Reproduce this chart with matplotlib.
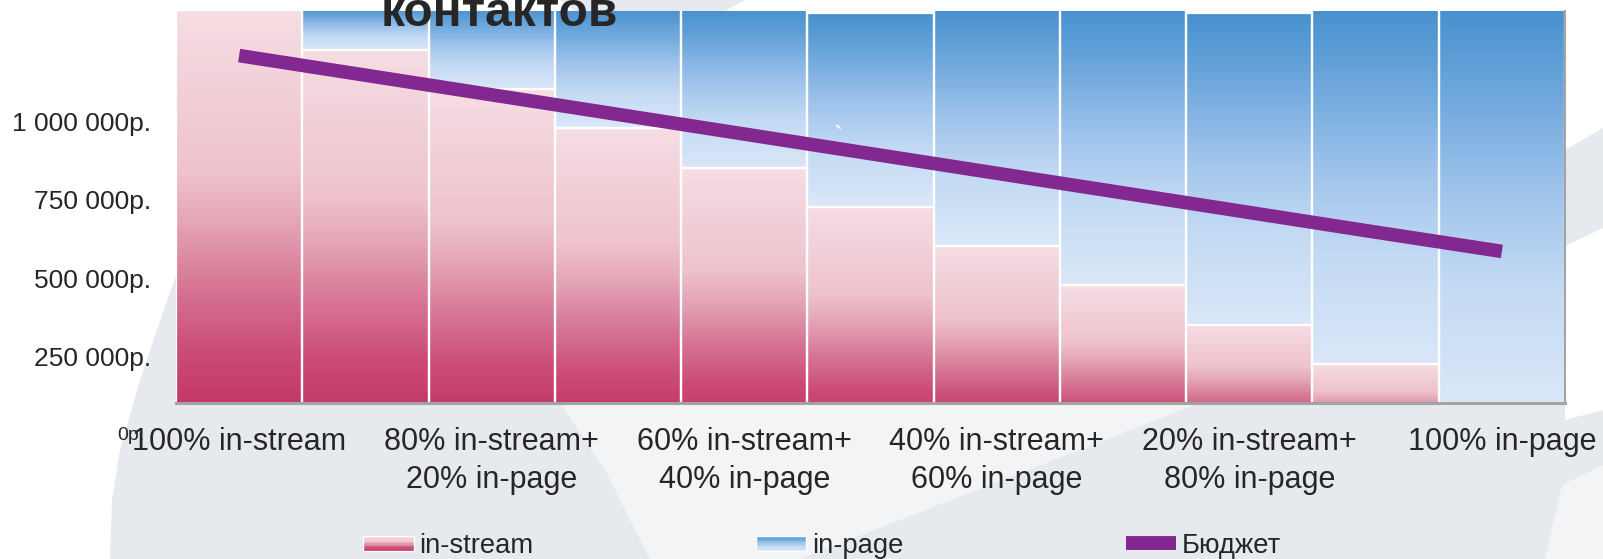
import numpy as np
import matplotlib
matplotlib.use("Agg")
import matplotlib.pyplot as plt
from matplotlib.colors import LinearSegmentedColormap
from matplotlib.patches import Polygon, Rectangle
from matplotlib.legend_handler import HandlerBase
from matplotlib.lines import Line2D

# ---------------- data ----------------
categories = [
    "100% in-stream",
    "90% in-stream+\n10% in-page",
    "80% in-stream+\n20% in-page",
    "70% in-stream+\n30% in-page",
    "60% in-stream+\n40% in-page",
    "50% in-stream+\n50% in-page",
    "40% in-stream+\n60% in-page",
    "30% in-stream+\n70% in-page",
    "20% in-stream+\n80% in-page",
    "10% in-stream+\n90% in-page",
    "100% in-page",
]
in_stream = [1355000, 1227000, 1102000, 977000, 852000, 727000, 602000, 477000, 352000, 227000, 102000]
in_page = [0, 133000, 258000, 383000, 508000, 618000, 758000, 883000, 993000, 1133000, 1258000]
budget = [1209000, 1146500, 1084000, 1021500, 959000, 896500, 834000, 771500, 709000, 646500, 585000]
y_ticks = [250000, 500000, 750000, 1000000]
series_names = ["in-stream", "in-page", "Бюджет"]
title_text = "контактов"

# ---------------- style ----------------
W, H = 1603, 559
DPI = 100
FONT = ["Liberation Sans", "DejaVu Sans"]
plt.rcParams["font.family"] = FONT
TXT = "#262626"

pink_cmap = LinearSegmentedColormap.from_list(
    "pink", [(0.0, "#be2d5c"), (0.2, "#cb4d76"), (0.36, "#d87a97"),
             (0.5, "#e5a5b7"), (0.62, "#eec3ce"), (1.0, "#f6dde3")])
blue_cmap = LinearSegmentedColormap.from_list(
    "blue", [(0.0, "#dae7f8"), (0.3, "#c3daf4"), (0.55, "#9dc2eb"),
             (0.8, "#6aa5db"), (1.0, "#4790ce")])

fig = plt.figure(figsize=(W / DPI, H / DPI), dpi=DPI)
fig.patch.set_facecolor("white")


def px(x, y):
    return (x / W, 1 - y / H)


# background watermark shapes
gray = "#e6e9ed"
bg_shapes = [
    [(185, 250), (162, 315), (140, 380), (120, 450), (112, 500), (110, 559),
     (1603, 559), (1603, 410), (1565, 420), (1565, 250)],
    [(1565, 150), (1603, 128), (1603, 228), (1565, 246)],
    [(560, 0), (745, 0), (725, 11), (575, 11)],
]
for pts in bg_shapes:
    fig.patches.append(Polygon([px(*p) for p in pts], closed=True, transform=fig.transFigure,
                               facecolor=gray, edgecolor="none", zorder=-10))
light_shapes = [
    [(560, 403), (1200, 403), (800, 559), (650, 559), (605, 470)],
    [(1545, 559), (1562, 485), (1603, 465), (1603, 559)],
]
for pts in light_shapes:
    fig.patches.append(Polygon([px(*p) for p in pts], closed=True, transform=fig.transFigure,
                               facecolor="#f3f4f6", edgecolor="none", zorder=-9))

ax = fig.add_axes([176 / W, 1 - 403 / H, (1565 - 176) / W, (403 - 10.7) / H])
ax.set_facecolor("none")

x = np.arange(len(categories))
bars_s = ax.bar(x, in_stream, width=1.0, facecolor="none", edgecolor="white", linewidth=1.6, zorder=3)
bars_p = ax.bar(x, in_page, width=1.0, bottom=in_stream, facecolor="none", edgecolor="white",
                linewidth=1.6, zorder=3)


def grad_fill(patch, cmap):
    x0, y0 = patch.get_x(), patch.get_y()
    w, h = patch.get_width(), patch.get_height()
    if h <= 0:
        return
    g = np.linspace(0, 1, 256)
    img = cmap(g)[:, None, :3]
    ax.imshow(img, extent=(x0, x0 + w, y0, y0 + h), origin="lower", aspect="auto",
              interpolation="bilinear", zorder=2)


for p in bars_s:
    grad_fill(p, pink_cmap)
for p in bars_p:
    grad_fill(p, blue_cmap)

line_color = "#832890"
ax.plot(x, budget, color=line_color, linewidth=9.8, solid_capstyle="butt", zorder=4)

ax.set_xlim(-0.5, len(categories) - 0.5)
ax.set_ylim(102000, 1352000)

ax.set_yticks(y_ticks)
ax.set_yticklabels([f"{v:,}".replace(",", " ") + "р." for v in y_ticks])
ax.set_xticks(x[::2])
ax.set_xticklabels(categories[::2], linespacing=1.37)
ax.tick_params(axis="y", length=0, pad=18, labelsize=19, labelcolor=TXT)
ax.tick_params(axis="x", length=0, pad=17, labelsize=22, labelcolor=TXT)

for s in ["top", "left"]:
    ax.spines[s].set_visible(False)
ax.spines["bottom"].set_color("#a3a3a3")
ax.spines["bottom"].set_linewidth(2.2)
ax.spines["right"].set_color("#a3a3a3")
ax.spines["right"].set_linewidth(1.5)
for s in ax.spines.values():
    s.set_zorder(5)

# stray "0р." label below the axis
fig.text(*px(117, 436), "0р.", fontsize=14, color=TXT, ha="left", va="center", zorder=1)
# stray backtick
fig.text(*px(838, 138), "`", fontsize=20, color="white", ha="center", va="center", zorder=10)

# title (cut off at top)
fig.text(*px(499, 26), title_text, fontsize=34.5, fontweight="bold", color=TXT,
         ha="center", va="baseline", zorder=10)


# legend with gradient handles
class GradHandler(HandlerBase):
    def __init__(self, cmap):
        super().__init__()
        self.cmap = cmap

    def create_artists(self, legend, orig_handle, xdescent, ydescent, width, height, fontsize, trans):
        arts = []
        n = 12
        hh = height * 0.8
        y0 = -ydescent + (height - hh) / 2
        for i in range(n):
            t = (i + 0.5) / n
            arts.append(Rectangle((-xdescent, y0 + hh * i / n), width, hh / n + 0.05,
                                  facecolor=self.cmap(t), edgecolor="none", transform=trans))
        arts.append(Rectangle((-xdescent, y0), width, hh, facecolor="none",
                              edgecolor="#ffffff", linewidth=1.0, transform=trans))
        return arts


h1 = Rectangle((0, 0), 1, 1)
h2 = Rectangle((0, 0), 1, 1, facecolor="b")
h3 = Line2D([], [], color=line_color, linewidth=10, solid_capstyle="butt")
leg = fig.legend([h1, h2, h3], series_names, ncol=3, loc="center left",
                 bbox_to_anchor=px(363, 546), frameon=False, fontsize=19.7,
                 handlelength=1.85, handletextpad=0.2, columnspacing=8.13,
                 borderpad=0, borderaxespad=0,
                 handler_map={h1: GradHandler(pink_cmap), h2: GradHandler(blue_cmap)})
for t in leg.get_texts():
    t.set_color(TXT)

fig.savefig("out.png", dpi=DPI, facecolor=fig.get_facecolor())
